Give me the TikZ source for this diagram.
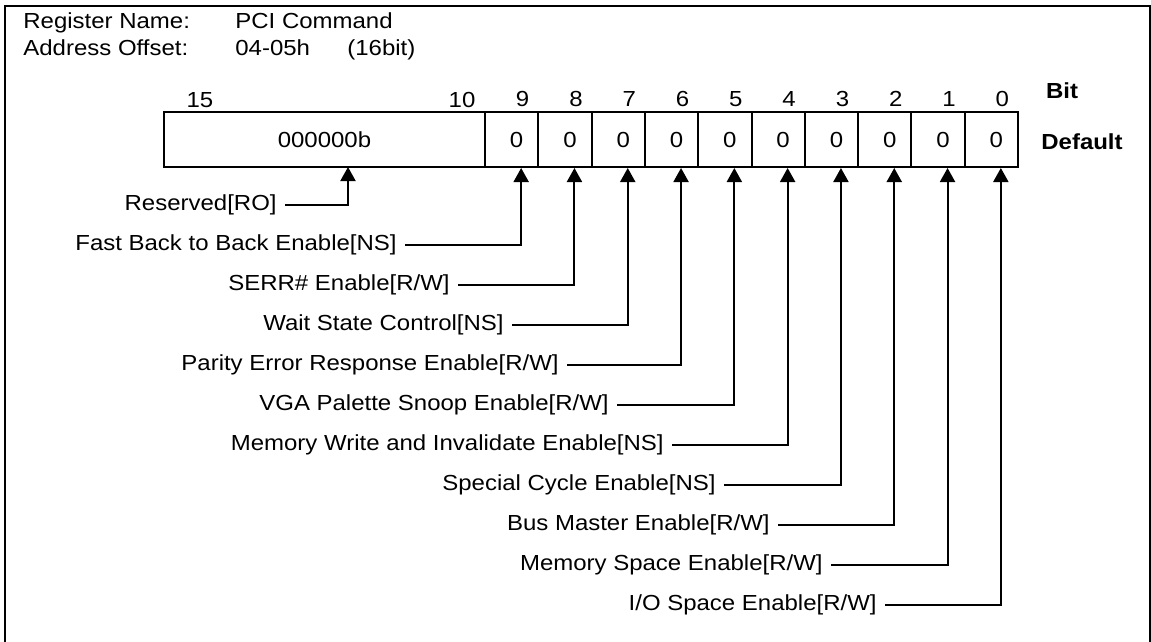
\documentclass[tikz,border=0pt]{standalone}
\usepackage{fontspec}
\setmainfont[FakeStretch=1.1]{Liberation Sans}
\usepackage{tikz}
\usetikzlibrary{arrows.meta,calc,positioning}

\tikzset{
  cell/.style={draw, line width=1pt, minimum width=26.65pt, minimum height=27.5pt, inner sep=0pt},
  bitnum/.style={anchor=base, inner sep=0pt},
  field/.style={anchor=east, inner xsep=4pt, inner ysep=0pt},
  heading/.style={font=\fontsize{10.9pt}{13pt}\selectfont\bfseries, inner sep=0pt},
  leader/.style={line width=1pt, <-, >={Triangle[width=7.5pt,length=7pt]}}
}

\begin{document}
\begin{tikzpicture}[x=0.5pt, y=-0.5pt, font=\fontsize{10.9pt}{13pt}\selectfont]
        \useasboundingbox (0,0) rectangle (1151,642);
        \draw[line width=1pt] (5,642) -- (5,6) -- (1150,6) -- (1150,642);
        % header
        \node[anchor=base west, inner sep=0pt] (regname) at (23,29) {Register Name:};
        \node[anchor=base west, inner sep=0pt] (regval) at (235,29) {PCI Command};
        \node[anchor=base west, inner sep=0pt] (offname) at (23,56) {Address Offset:};
        \node[anchor=base west, inner sep=0pt] (offval) at (235,56) {04-05h};
        \node[anchor=base west, inner sep=0pt] (width) at (347,56) {(16bit)};
        % register box
        \node[cell, minimum width=160.5pt] (res) at (324.5,139.5) {000000b};
        \node[bitnum] (n15) at (200,108) {15};
        \node[bitnum] (n10) at (462,108) {10};
        \foreach \b [evaluate=\b as \cx using 485+(9-\b)*53.3+26.65] in {9,...,0} {
            \node[cell] (c\b) at (\cx,139.5) {\hspace*{5pt}0};
            \node[bitnum] (n\b) at ($(c\b.north)+(11,-4)$) {\b};
            \coordinate (t\b) at ($(c\b.south)+(9.5,0)$);
        }
        \node[heading] (bit) at (1062,91) {Bit};
        \node[heading] (default) at (1082,142) {Default};
        % field names
        \coordinate (tres) at (348,167);
        \node[field] (lres) at (285,205) {Reserved[RO]};
        \draw[leader] (tres) |- (lres.east);
        \foreach \b/\txt/\ex in {9/{Fast Back to Back Enable[NS]}/405, 8/{SERR\# Enable[R/W]}/458,
            7/{Wait State Control[NS]}/512, 6/{Parity Error Response Enable[R/W]}/567,
            5/{VGA Palette Snoop Enable[R/W]}/617, 4/{Memory Write and Invalidate Enable[NS]}/672,
            3/{Special Cycle Enable[NS]}/724, 2/{Bus Master Enable[R/W]}/778,
            1/{Memory Space Enable[R/W]}/831, 0/{I/O Space Enable[R/W]}/885} {
            \node[field] (l\b) at (\ex,{245+40*(9-\b)}) {\txt};
            \draw[leader] (t\b) |- (l\b.east);
        }
    \end{tikzpicture}
\end{document}
